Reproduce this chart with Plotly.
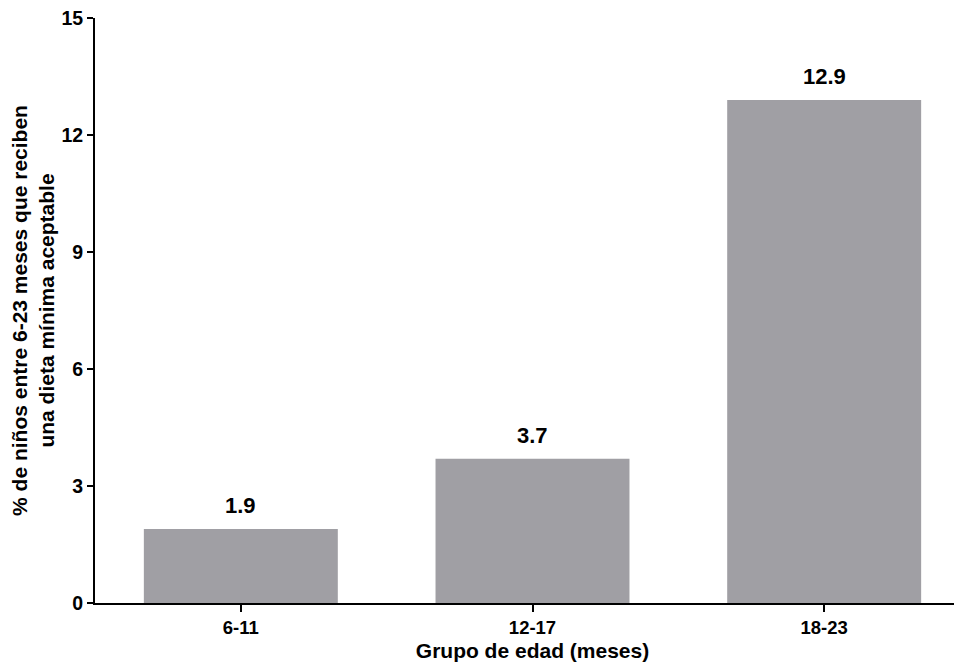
import plotly.graph_objects as go

categories = ["6-11", "12-17", "18-23"]
values = [1.9, 3.7, 12.9]
labels = ["1.9", "3.7", "12.9"]
y_ticks = [0, 3, 6, 9, 12, 15]

FONT = "Liberation Sans, Arial, sans-serif"

fig = go.Figure()
fig.add_trace(go.Bar(
    x=list(range(len(categories))), y=values,
    marker=dict(color="#a09fa4", line=dict(width=0)),
    width=0.665, hoverinfo="skip",
))

for i, (v, lab) in enumerate(zip(values, labels)):
    fig.add_annotation(x=i, y=v, text=f"<b>{lab}</b>", showarrow=False,
                       yanchor="bottom", yshift=9,
                       font=dict(family=FONT, size=22, color="black"))

fig.update_layout(
    width=962, height=666,
    margin=dict(l=87, r=0, t=10, b=71),
    plot_bgcolor="white", paper_bgcolor="white",
    showlegend=False,
    font=dict(family=FONT, color="black"),
    xaxis=dict(
        range=[-0.5, 2.5], tickmode="array",
        tickvals=list(range(len(categories))),
        ticktext=[f"<b>{c}</b>" for c in categories],
        ticks="outside", ticklen=7, tickwidth=2, tickcolor="black",
        showline=True, linewidth=2, linecolor="black",
        showgrid=False, zeroline=False, automargin=False,
        tickfont=dict(family=FONT, size=18.5, color="black"),
        title=dict(text="<b>Grupo de edad (meses)</b>", standoff=6,
                   font=dict(family=FONT, size=21, color="black")),
    ),
    yaxis=dict(
        range=[0, 15], tickmode="array", tickvals=y_ticks,
        ticktext=[f"<b>{t}</b>" for t in y_ticks],
        ticks="outside", ticklen=6, tickwidth=2, tickcolor="black",
        showline=True, linewidth=2, linecolor="black",
        showgrid=False, zeroline=False, automargin=False,
        ticklabeloverflow="allow",
        tickfont=dict(family=FONT, size=19.5, color="black"),
        title=dict(text="<b>% de niños entre 6-23 meses que reciben<br>una dieta mínima aceptable</b>",
                   standoff=10,
                   font=dict(family=FONT, size=21, color="black")),
    ),
)

fig.write_html("out.html")
